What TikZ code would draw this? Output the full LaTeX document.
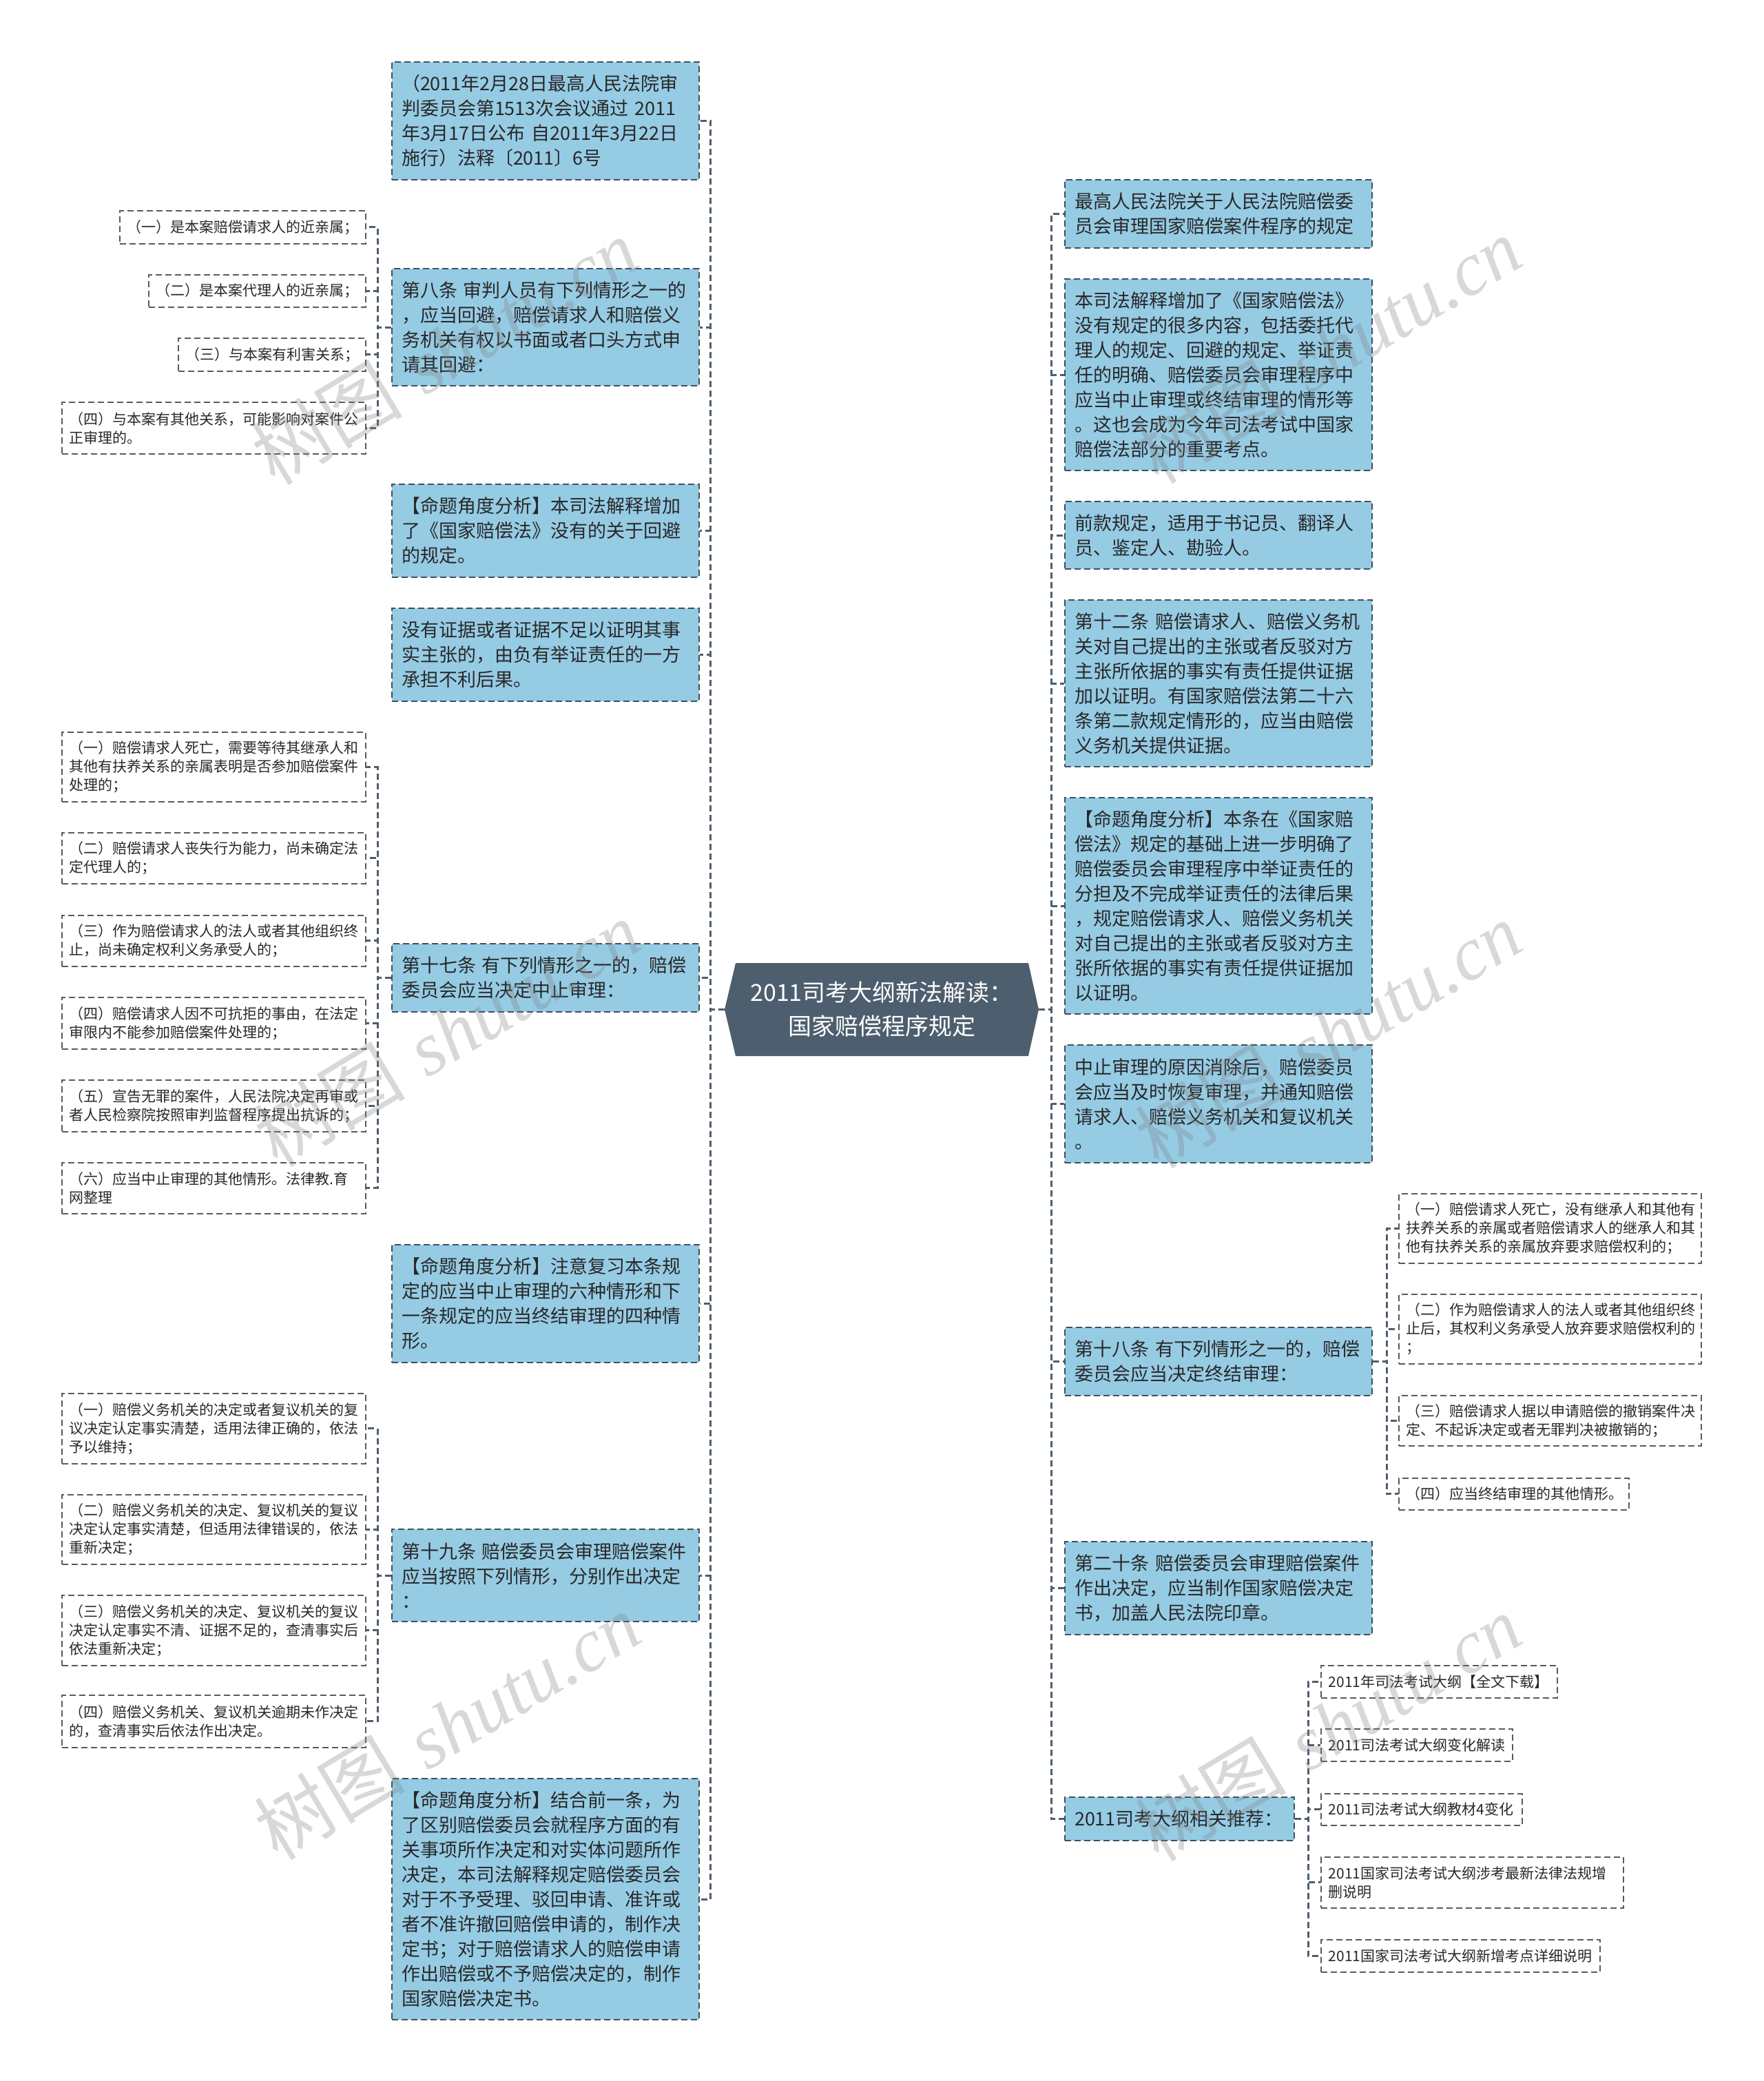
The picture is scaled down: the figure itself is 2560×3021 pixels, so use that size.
\documentclass[tikz,border=0pt]{standalone}
\usepackage{fontspec}
\setmainfont{Noto Sans CJK SC}
\newfontfamily\wmlatin{Liberation Serif}
\definecolor{bluefill}{RGB}{150,203,228}
\definecolor{edgec}{RGB}{62,80,96}
\definecolor{connc}{RGB}{77,94,110}
\definecolor{centerc}{RGB}{77,94,110}
\definecolor{txtc}{RGB}{40,40,40}
\definecolor{wedge}{RGB}{90,90,90}
\tikzset{
  bluebox/.style={draw=edgec, line width=2pt, dash pattern=on 9pt off 5pt, fill=bluefill, text=txtc,
    font=\fontsize{27}{36}\selectfont, align=left, anchor=north west, inner xsep=14pt, inner ysep=0pt},
  whitebox/.style={draw=wedge, line width=1.8pt, dash pattern=on 9pt off 5pt, fill=white, text=txtc,
    font=\fontsize{21}{27}\selectfont, align=left, anchor=north west, inner xsep=11pt, inner ysep=0pt},
  conn/.style={draw=connc, line width=3pt, dash pattern=on 9pt off 5pt},
  wm/.style={rotate=31, text=black!50, opacity=0.3, text opacity=0.3, font=\fontsize{110}{110}\selectfont, inner sep=0pt}
}
\newcommand\bluebx[6]{%
  \pgfmathsetmacro\mybw{#4-#2}\pgfmathsetmacro\mybh{#5-#3}\pgfmathsetmacro\mytw{#4-#2-28}%
  \node[bluebox, minimum width=\mybw pt, minimum height=\mybh pt, text width=\mytw pt] (#1) at (#2,#3) {#6};}
\newcommand\whitebx[6]{%
  \pgfmathsetmacro\mybw{#4-#2}\pgfmathsetmacro\mybh{#5-#3}\pgfmathsetmacro\mytw{#4-#2-22}%
  \node[whitebox, minimum width=\mybw pt, minimum height=\mybh pt, text width=\mytw pt] (#1) at (#2,#3) {#6};}
\begin{document}
\begin{tikzpicture}[x=1pt,y=-1pt]
\useasboundingbox[fill=white] (0,0) rectangle (2560,3021);

% center
\fill[centerc] (1068,1398) -- (1493,1398) -- (1508,1465.5) -- (1493,1533) -- (1068,1533) -- (1052,1465.5) -- cycle;
\node[font=\fontsize{34}{49}\selectfont, text=white, align=center, minimum width=456pt, minimum height=135pt, inner sep=0pt] (c) at (1280,1465.5) {2011司考大纲新法解读：\\国家赔偿程序规定};

% left blue
\bluebx{L1}{568}{89}{1014}{260}{（2011年2月28日最高人民法院审\\判委员会第1513次会议通过~2011\\年3月17日公布~自2011年3月22日\\施行）法释〔2011〕6号}
\bluebx{L2}{568}{389}{1014}{559}{第八条~审判人员有下列情形之一的\\，应当回避，赔偿请求人和赔偿义\\务机关有权以书面或者口头方式申\\请其回避：}
\bluebx{L3}{568}{702}{1014}{837}{【命题角度分析】本司法解释增加\\了《国家赔偿法》没有的关于回避\\的规定。}
\bluebx{L4}{568}{882}{1014}{1017}{没有证据或者证据不足以证明其事\\实主张的，由负有举证责任的一方\\承担不利后果。}
\bluebx{L5}{568}{1369}{1014}{1468}{第十七条~有下列情形之一的，赔偿\\委员会应当决定中止审理：}
\bluebx{L6}{568}{1806}{1014}{1977}{【命题角度分析】注意复习本条规\\定的应当中止审理的六种情形和下\\一条规定的应当终结审理的四种情\\形。}
\bluebx{L7}{568}{2219}{1014}{2353}{第十九条~赔偿委员会审理赔偿案件\\应当按照下列情形，分别作出决定\\：}
\bluebx{L8}{568}{2581}{1014}{2931}{【命题角度分析】结合前一条，为\\了区别赔偿委员会就程序方面的有\\关事项所作决定和对实体问题所作\\决定，本司法解释规定赔偿委员会\\对于不予受理、驳回申请、准许或\\者不准许撤回赔偿申请的，制作决\\定书；对于赔偿请求人的赔偿申请\\作出赔偿或不予赔偿决定的，制作\\国家赔偿决定书。}

% right blue
\bluebx{R1}{1545}{260}{1991}{359}{最高人民法院关于人民法院赔偿委\\员会审理国家赔偿案件程序的规定}
\bluebx{R2}{1545}{404}{1991}{682}{本司法解释增加了《国家赔偿法》\\没有规定的很多内容，包括委托代\\理人的规定、回避的规定、举证责\\任的明确、赔偿委员会审理程序中\\应当中止审理或终结审理的情形等\\。这也会成为今年司法考试中国家\\赔偿法部分的重要考点。}
\bluebx{R3}{1545}{727}{1991}{825}{前款规定，适用于书记员、翻译人\\员、鉴定人、勘验人。}
\bluebx{R4}{1545}{870}{1991}{1112}{第十二条~赔偿请求人、赔偿义务机\\关对自己提出的主张或者反驳对方\\主张所依据的事实有责任提供证据\\加以证明。有国家赔偿法第二十六\\条第二款规定情形的，应当由赔偿\\义务机关提供证据。}
\bluebx{R5}{1545}{1157}{1991}{1471}{【命题角度分析】本条在《国家赔\\偿法》规定的基础上进一步明确了\\赔偿委员会审理程序中举证责任的\\分担及不完成举证责任的法律后果\\，规定赔偿请求人、赔偿义务机关\\对自己提出的主张或者反驳对方主\\张所依据的事实有责任提供证据加\\以证明。}
\bluebx{R6}{1545}{1516}{1991}{1687}{中止审理的原因消除后，赔偿委员\\会应当及时恢复审理，并通知赔偿\\请求人、赔偿义务机关和复议机关\\。}
\bluebx{R7}{1545}{1926}{1991}{2025}{第十八条~有下列情形之一的，赔偿\\委员会应当决定终结审理：}
\bluebx{R8}{1545}{2237}{1991}{2372}{第二十条~赔偿委员会审理赔偿案件\\作出决定，应当制作国家赔偿决定\\书，加盖人民法院印章。}
\bluebx{R9}{1545}{2608}{1878}{2671}{2011司考大纲相关推荐：}

% left white group 1
\whitebx{W1a}{173}{305}{530}{353}{（一）是本案赔偿请求人的近亲属；}
\whitebx{W1b}{215}{398}{530}{445}{（二）是本案代理人的近亲属；}
\whitebx{W1c}{258}{490}{530}{538}{（三）与本案有利害关系；}
\whitebx{W1d}{89}{583}{530}{658}{（四）与本案有其他关系，可能影响对案件公\\正审理的。}
% left white group 2
\whitebx{W2a}{89}{1062}{530}{1163}{（一）赔偿请求人死亡，需要等待其继承人和\\其他有扶养关系的亲属表明是否参加赔偿案件\\处理的；}
\whitebx{W2b}{89}{1208}{530}{1282}{（二）赔偿请求人丧失行为能力，尚未确定法\\定代理人的；}
\whitebx{W2c}{89}{1328}{530}{1402}{（三）作为赔偿请求人的法人或者其他组织终\\止，尚未确定权利义务承受人的；}
\whitebx{W2d}{89}{1447}{530}{1522}{（四）赔偿请求人因不可抗拒的事由，在法定\\审限内不能参加赔偿案件处理的；}
\whitebx{W2e}{89}{1567}{530}{1642}{（五）宣告无罪的案件，人民法院决定再审或\\者人民检察院按照审判监督程序提出抗诉的；}
\whitebx{W2f}{89}{1687}{530}{1761}{（六）应当中止审理的其他情形。法律教.育\\网整理}
% left white group 3
\whitebx{W3a}{89}{2022}{530}{2124}{（一）赔偿义务机关的决定或者复议机关的复\\议决定认定事实清楚，适用法律正确的，依法\\予以维持；}
\whitebx{W3b}{89}{2169}{530}{2270}{（二）赔偿义务机关的决定、复议机关的复议\\决定认定事实清楚，但适用法律错误的，依法\\重新决定；}
\whitebx{W3c}{89}{2315}{530}{2417}{（三）赔偿义务机关的决定、复议机关的复议\\决定认定事实不清、证据不足的，查清事实后\\依法重新决定；}
\whitebx{W3d}{89}{2460}{530}{2536}{（四）赔偿义务机关、复议机关逾期未作决定\\的，查清事实后依法作出决定。}
% right white group 4
\whitebx{W4a}{2030}{1732}{2469}{1833}{（一）赔偿请求人死亡，没有继承人和其他有\\扶养关系的亲属或者赔偿请求人的继承人和其\\他有扶养关系的亲属放弃要求赔偿权利的；}
\whitebx{W4b}{2030}{1878}{2469}{1979}{（二）作为赔偿请求人的法人或者其他组织终\\止后，其权利义务承受人放弃要求赔偿权利的\\；}
\whitebx{W4c}{2030}{2025}{2469}{2098}{（三）赔偿请求人据以申请赔偿的撤销案件决\\定、不起诉决定或者无罪判决被撤销的；}
\whitebx{W4d}{2030}{2145}{2364}{2191}{（四）应当终结审理的其他情形。}
% right white group 5
\whitebx{W5a}{1917}{2417}{2260}{2464}{2011年司法考试大纲【全文下载】}
\whitebx{W5b}{1917}{2509}{2195}{2556}{2011司法考试大纲变化解读}
\whitebx{W5c}{1917}{2603}{2209}{2649}{2011司法考试大纲教材4变化}
\whitebx{W5d}{1917}{2695}{2356}{2769}{2011国家司法考试大纲涉考最新法律法规增\\删说明}
\whitebx{W5e}{1917}{2815}{2322}{2862}{2011国家司法考试大纲新增考点详细说明}

% connectors from center
\foreach \n in {L1,L2,L3,L4,L5,L6,L7,L8}
  \draw[conn] (c.west) -- ++(-20,0) |- (\n.east);
\foreach \n in {R1,R2,R3,R4,R5,R6,R7,R8,R9}
  \draw[conn] (c.east) -- ++(18,0) |- (\n.west);
% sub connectors
\foreach \n in {W1a,W1b,W1c,W1d}
  \draw[conn] (L2.west) -- ++(-20,0) |- (\n.east);
\foreach \n in {W2a,W2b,W2c,W2d,W2e,W2f}
  \draw[conn] (L5.west) -- ++(-20,0) |- (\n.east);
\foreach \n in {W3a,W3b,W3c,W3d}
  \draw[conn] (L7.west) -- ++(-20,0) |- (\n.east);
\foreach \n in {W4a,W4b,W4c,W4d}
  \draw[conn] (R7.east) -- ++(20,0) |- (\n.west);
\foreach \n in {W5a,W5b,W5c,W5d,W5e}
  \draw[conn] (R9.east) -- ++(19,0) |- (\n.west);

% watermarks
\node[wm] (wm1) at (645,510) {树图\hspace{0.3em}{\wmlatin\itshape shutu.cn}};
\node[wm] (wm2) at (1928,508) {树图\hspace{0.3em}{\wmlatin\itshape shutu.cn}};
\node[wm] (wm3) at (649,1500) {树图\hspace{0.3em}{\wmlatin\itshape shutu.cn}};
\node[wm] (wm4) at (1928,1502) {树图\hspace{0.3em}{\wmlatin\itshape shutu.cn}};
\node[wm] (wm5) at (649,2506) {树图\hspace{0.3em}{\wmlatin\itshape shutu.cn}};
\node[wm] (wm6) at (1928,2508) {树图\hspace{0.3em}{\wmlatin\itshape shutu.cn}};
\end{tikzpicture}
\end{document}
